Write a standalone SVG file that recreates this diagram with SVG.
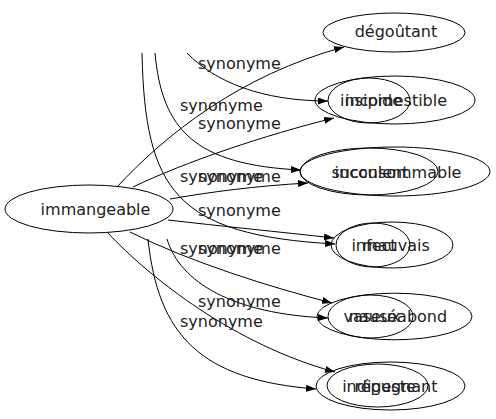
<svg xmlns="http://www.w3.org/2000/svg" width="496" height="419" viewBox="0 0 496 419">
<style>
  .n { fill: none; stroke: #000; stroke-width: 1; }
  .t { font-family: "DejaVu Sans", sans-serif; font-size: 16px; fill: #222; text-anchor: middle; }
  .l { font-family: "DejaVu Sans", sans-serif; font-size: 16px; fill: #222; }
  .e { fill: none; stroke: #000; stroke-width: 1; marker-end: url(#arr); }
</style>
<defs>
  <marker id="arr" markerWidth="10" markerHeight="7" refX="10" refY="3.5" orient="auto" markerUnits="userSpaceOnUse">
    <path d="M0,0 L10,3.5 L0,7 z" fill="#000"/>
  </marker>
</defs>
<rect width="496" height="419" fill="#fff"/>
<g id="edges">
  <path class="e" d="M117,187 C165,135 240,75 344,47"/>
  <path class="e" d="M133,187 C185,162 265,135 334,118"/>
  <path class="e" d="M187,53 C215,82 262,101 328,101"/>
  <path class="e" d="M170,199 C210,192 255,186 308,183"/>
  <path class="e" d="M155,53 C162,130 195,165 301,170"/>
  <path class="e" d="M168,220 C220,226 280,232 334,238"/>
  <path class="e" d="M142,53 C145,190 175,235 335,244"/>
  <path class="e" d="M130,232 C190,262 270,287 332,303"/>
  <path class="e" d="M167,239 C180,282 232,314 328,318"/>
  <path class="e" d="M108,233 C150,278 235,345 335,372"/>
  <path class="e" d="M148,239 C158,335 200,380 316,389"/>
  <text class="l" x="198" y="69">synonyme</text>
  <text class="l" x="180" y="111">synonyme</text>
  <text class="l" x="198" y="129">synonyme</text>
  <text class="l" x="180" y="182">synonyme</text>
  <text class="l" x="198" y="182">synonyme</text>
  <text class="l" x="198" y="216">synonyme</text>
  <text class="l" x="180" y="254">synonyme</text>
  <text class="l" x="198" y="254">synonyme</text>
  <text class="l" x="198" y="307">synonyme</text>
  <text class="l" x="180" y="327">synonyme</text>
</g>
<g id="node-immangeable">
  <ellipse class="n" cx="89" cy="209" rx="84" ry="24"/>
  <text class="t" x="95.5" y="215">immangeable</text>
</g>
<g id="node-degoutant">
  <ellipse class="n" cx="394" cy="32.5" rx="71" ry="19.5"/>
  <text class="t" x="396" y="37">dégoûtant</text>
</g>
<g id="node-incomestible">
  <ellipse class="n" cx="395" cy="100" rx="80" ry="24"/>
  <text class="t" x="396" y="106">incomestible</text>
</g>
<g id="node-insipide">
  <ellipse class="n" cx="369" cy="100.5" rx="41" ry="22.5"/>
  <text class="t" x="371" y="106">insipide</text>
</g>
<g id="node-inconsommable">
  <ellipse class="n" cx="395" cy="171.5" rx="95" ry="24.5"/>
  <text class="t" x="398" y="177.5">inconsommable</text>
</g>
<g id="node-succulent">
  <ellipse class="n" cx="369" cy="171.5" rx="69" ry="23.5"/>
  <text class="t" x="370" y="177.5">succulent</text>
</g>
<g id="node-mauvais">
  <ellipse class="n" cx="392" cy="245" rx="61" ry="23"/>
  <text class="t" x="396" y="250.5">mauvais</text>
</g>
<g id="node-infect">
  <ellipse class="n" cx="373" cy="245" rx="37" ry="22"/>
  <text class="t" x="374" y="250.5">infect</text>
</g>
<g id="node-nauseabond">
  <ellipse class="n" cx="394.5" cy="316.5" rx="77.5" ry="23.3"/>
  <text class="t" x="398" y="322">nauséabond</text>
</g>
<g id="node-vaseux">
  <ellipse class="n" cx="370.5" cy="316.5" rx="42.5" ry="21.5"/>
  <text class="t" x="372" y="322">vaseux</text>
</g>
<g id="node-repugnant">
  <ellipse class="n" cx="390.5" cy="386" rx="74.5" ry="24"/>
  <text class="t" x="396" y="392">répugnant</text>
</g>
<g id="node-indigeste">
  <ellipse class="n" cx="377.5" cy="385.5" rx="50.5" ry="21.5"/>
  <text class="t" x="379" y="392">indigeste</text>
</g>
</svg>
